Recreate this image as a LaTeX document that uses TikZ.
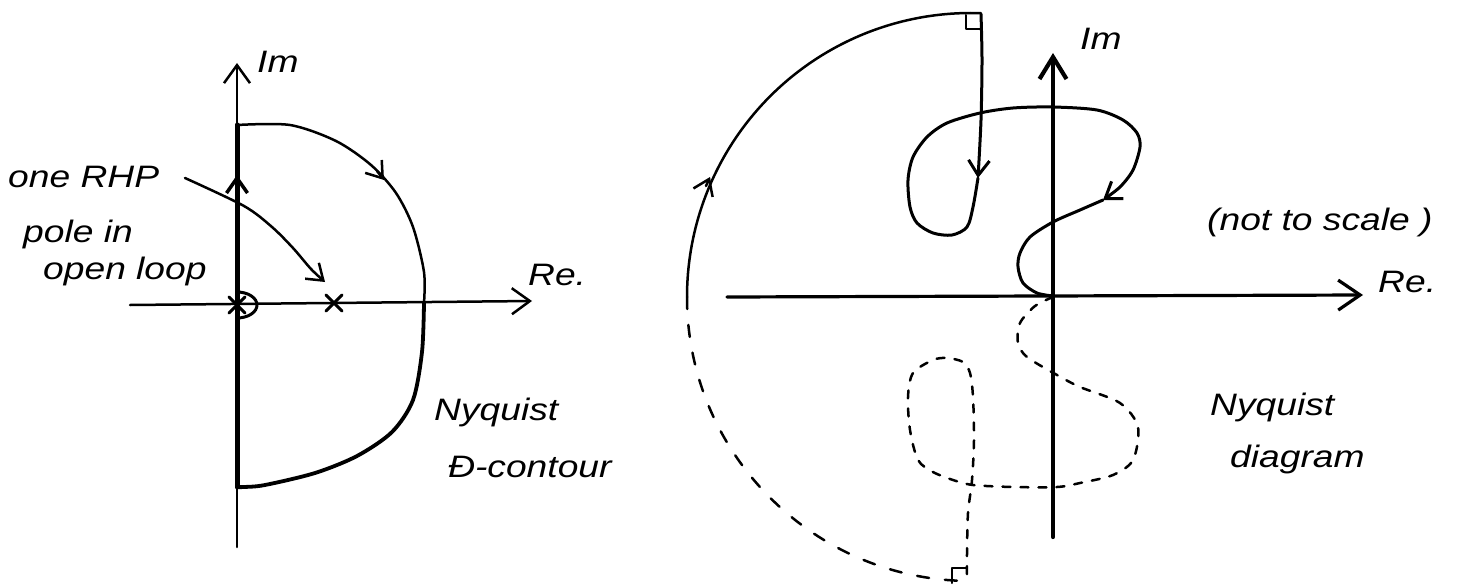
\documentclass[tikz,border=0pt]{standalone}
\usepackage{fontspec}
\newfontfamily\hand[FakeStretch=1.2]{Liberation Sans}
\usetikzlibrary{arrows.meta}
\begin{document}
\begin{tikzpicture}[x=1pt,y=-1pt,line cap=round,line join=round,
  lbl/.style={font=\hand\itshape\fontsize{31}{33}\selectfont,anchor=base west,inner sep=0pt},
  bigbarb/.style={-{Straight Barb[length=18pt,width=26pt]}},
  midbarb/.style={-{Straight Barb[length=15pt,width=21pt]}},
  thinline/.style={line width=2.5pt},
  dashA/.style={line width=2.5pt,dash pattern=on 8pt off 10pt},
  dashB/.style={line width=2.5pt,dash pattern=on 12pt off 16pt}]
\useasboundingbox (0,0) rectangle (1471,586);

% ---------------- left: D-contour ----------------
\draw[thinline,bigbarb] (130,305) -- (532,301);
\draw[thinline,bigbarb] (237,547) -- (237,63);
\draw[line width=5pt] (237,487) -- (237,125);
\draw[line width=3.5pt,midbarb] (237,200) -- (237,175);
% D arc
\draw[thinline] plot[smooth] coordinates {(237,125) (290,125) (336,141) (371,165) (396,193) (413,227) (424,272) (424,303)};
\draw[line width=3.8pt] plot[smooth] coordinates {(424,303) (422,352) (413,400) (392,432) (357,456) (315,473) (265,485) (244,487) (237,487)};
\draw[thinline,midbarb] (377,171) -- (384,180);
% poles
\draw[line width=3pt] (326,295) -- (342,311) (326,311) -- (342,295);
\draw[line width=3pt] (229,297) -- (245,313) (229,313) -- (245,297) (237,294) -- (237,316);
\draw[line width=3pt] (237,292) arc[start angle=-90,end angle=90,x radius=20,y radius=13];
% annotation arrow
\draw[thinline,midbarb] plot[smooth] coordinates {(185,178) (244,206) (272,227) (293,248) (311,269) (325,282)};
% labels
\node[lbl] (onerhp) at (8,187) {one RHP};
\node[lbl] (polein) at (23,242) {pole in};
\node[lbl] (openloop) at (43,279) {open loop};
\node[lbl] (imL) at (257,72) {Im};
\node[lbl] (reL) at (528,285) {Re.};
\node[lbl] (nyqL) at (434,420) {Nyquist};
\node[lbl] (dcont) at (448,477) {Đ-contour};

% ---------------- right: Nyquist diagram ----------------
\draw[line width=3.2pt,-{Straight Barb[length=22pt,width=30pt]}] (727,297) -- (1363,295);
\draw[line width=4.2pt,-{Straight Barb[length=22pt,width=27pt]}] (1053,537) -- (1053,53);
% outer arcs
\draw[thinline] (687,297) arc[start angle=180,end angle=272,radius=284];
\draw[dashB] (687,297) arc[start angle=180,end angle=90.8,radius=284];
\draw[thinline,midbarb] (706,186) -- (710,177);
% right-angle marks
\draw[line width=2pt] (966,15) -- (966,29) -- (981,29);
\draw[line width=2pt] (952,583) -- (952,568) -- (967,568);
% solid locus
\draw[line width=3pt,midbarb] plot[smooth] coordinates {(981,14) (982,60) (981,120) (978,178)};
\draw[line width=3pt,midbarb] plot[smooth] coordinates {(978,178) (973,207) (967,227) (952,235) (933,233) (917,223) (910,207) (908,180) (913,157) (927,137) (947,123) (980,113) (1013,108) (1053,107) (1097,110) (1123,120) (1137,133) (1140,147) (1133,170) (1120,187) (1103,200)};
\draw[line width=3pt] plot[smooth] coordinates {(1103,200) (1080,210) (1053,222) (1030,237) (1020,253) (1018,267) (1023,283) (1037,293) (1053,296)};
% dashed mirror locus
\draw[dashA] plot[smooth] coordinates {(1053,297) (1035,306) (1020,323) (1018,343) (1027,357) (1057,375) (1080,387) (1120,403) (1138,427) (1133,460) (1113,475) (1080,483) (1057,487) (1013,487) (973,485) (953,480) (933,472) (918,460) (910,430) (908,397) (913,373) (933,360) (947,358) (963,362) (970,373) (973,397) (974,440) (972,480) (968,513) (967,553) (967,583)};
% labels
\node[lbl] (imR) at (1080,50) {Im};
\node[lbl] (reR) at (1378,292) {Re.};
\node[lbl] (scale) at (1207,230) {(not to scale )};
\node[lbl] (nyqR) at (1210,415) {Nyquist};
\node[lbl] (diag) at (1230,467) {diagram};
\end{tikzpicture}
\end{document}
